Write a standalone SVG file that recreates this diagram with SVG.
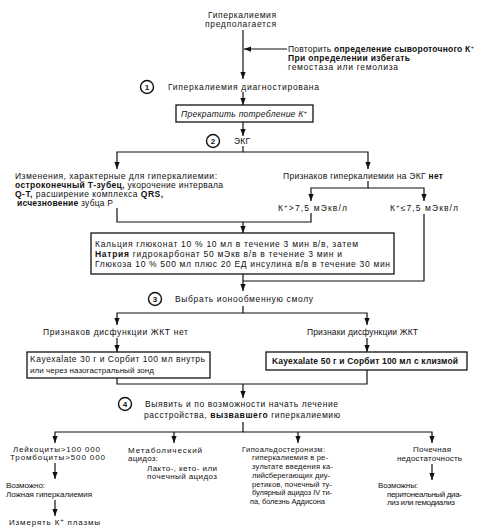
<svg xmlns="http://www.w3.org/2000/svg" width="480" height="532" viewBox="0 0 480 532">
<style>
text{font-family:"Liberation Sans",Arial,sans-serif;font-size:8.5px;fill:#111}
.s{font-size:7.5px}
.m{font-size:8px}
.b{font-weight:bold}
.i{font-style:italic}
.sup{font-size:6px}
.num{font-size:8px;font-weight:bold;text-anchor:middle}
.box{fill:#fff;stroke:#111;stroke-width:1.3}
.circ{fill:#fff;stroke:#111;stroke-width:1.4}
.ln{fill:none;stroke:#111;stroke-width:1.2}
</style>
<defs>
<marker id="ah" viewBox="0 0 8 8" refX="8" refY="4" markerWidth="7" markerHeight="7" markerUnits="userSpaceOnUse" orient="auto">
<path d="M0,1 L8,4 L0,7 Z" fill="#111"/>
</marker>
</defs>
<rect width="480" height="532" fill="#fff"/>

<g id="connectors">
<path class="ln" d="M243,30 V79" marker-end="url(#ah)"/>
<path class="ln" d="M287,49 H244" marker-end="url(#ah)"/>
<path class="ln" d="M243,92 V105" marker-end="url(#ah)"/>
<path class="ln" d="M243,122 V136" marker-end="url(#ah)"/>
<path class="ln" d="M243,146 V152 H117 V169" marker-end="url(#ah)"/>
<path class="ln" d="M243,152 H368 V169" marker-end="url(#ah)"/>
<path class="ln" d="M117,208 V222 H311 V213"/>
<path class="ln" d="M243,222 V233" marker-end="url(#ah)"/>
<path class="ln" d="M368,181 V188 H311 V201" marker-end="url(#ah)"/>
<path class="ln" d="M368,188 H424 V201" marker-end="url(#ah)"/>
<path class="ln" d="M424,214 V281 H243"/>
<path class="ln" d="M243,274 V291" marker-end="url(#ah)"/>
<path class="ln" d="M243,306 V313 H117 V325" marker-end="url(#ah)"/>
<path class="ln" d="M243,313 H367 V325" marker-end="url(#ah)"/>
<path class="ln" d="M117,338 V352" marker-end="url(#ah)"/>
<path class="ln" d="M367,338 V352" marker-end="url(#ah)"/>
<path class="ln" d="M117,378 V384 H367 V370"/>
<path class="ln" d="M243,384 V398" marker-end="url(#ah)"/>
<path class="ln" d="M243,422 V432 H55 V443" marker-end="url(#ah)"/>
<path class="ln" d="M174,432 V443" marker-end="url(#ah)"/>
<path class="ln" d="M243,432 H432 V443" marker-end="url(#ah)"/>
<path class="ln" d="M298,432 V443" marker-end="url(#ah)"/>
<path class="ln" d="M55,463 V479" marker-end="url(#ah)"/>
<path class="ln" d="M55,500 V516" marker-end="url(#ah)"/>
<path class="ln" d="M432,464 V480" marker-end="url(#ah)"/>
</g>

<g id="start">
<text x="208" y="18" textLength="68" lengthAdjust="spacing">Гиперкалиемия</text>
<text x="205" y="27" textLength="71" lengthAdjust="spacing">предполагается</text>
</g>

<g id="repeat">
<text x="288" y="52" textLength="186" lengthAdjust="spacing">Повторить <tspan class="b">определение сывороточного К</tspan><tspan class="sup" dy="-3">+</tspan></text>
<text x="288" y="61" class="b" textLength="122" lengthAdjust="spacing">При определении избегать</text>
<text x="288" y="70" textLength="110" lengthAdjust="spacing">гемостаза или гемолиза</text>
</g>

<g id="step1">
<circle class="circ" cx="147" cy="87" r="6.5"/>
<text class="num" x="147" y="90">1</text>
<text x="168" y="90" textLength="151" lengthAdjust="spacing">Гиперкалиемия диагностирована</text>
</g>

<g id="stop">
<rect class="box" x="176" y="105" width="137" height="17"/>
<text class="i" x="181" y="117" textLength="126" lengthAdjust="spacing">Прекратить потребление К<tspan class="sup" dy="-3">+</tspan></text>
</g>

<g id="step2">
<circle class="circ" cx="213" cy="141" r="6.5"/>
<text class="num" x="213" y="144">2</text>
<text x="234" y="144" textLength="16" lengthAdjust="spacing">ЭКГ</text>
</g>

<g id="ecg-changes">
<text x="15" y="179" textLength="202" lengthAdjust="spacing">Изменения, характерные для гиперкалиемии:</text>
<text x="15" y="188" textLength="208" lengthAdjust="spacing"><tspan class="b">остроконечный Т-зубец,</tspan> укорочение интервала</text>
<text x="15" y="197" textLength="148" lengthAdjust="spacing"><tspan class="b">Q-T,</tspan> расширение комплекса <tspan class="b">QRS,</tspan></text>
<text x="17" y="206" textLength="96" lengthAdjust="spacing"><tspan class="b">исчезновение</tspan> зубца P</text>
</g>

<g id="ecg-none">
<text x="283" y="179" textLength="160" lengthAdjust="spacing">Признаков гиперкалиемии на ЭКГ <tspan class="b">нет</tspan></text>
</g>

<g id="k-high">
<text x="278" y="211" textLength="69" lengthAdjust="spacing">К<tspan class="sup" dy="-3">+</tspan><tspan dy="3">&gt;7,5 мЭкв/л</tspan></text>
</g>

<g id="k-low">
<text x="390" y="211" textLength="68" lengthAdjust="spacing">К<tspan class="sup" dy="-3">+</tspan><tspan dy="3">≤7,5 мЭкв/л</tspan></text>
</g>

<g id="therapy">
<rect class="box" x="91" y="233" width="303" height="41"/>
<text x="95" y="247" textLength="263" lengthAdjust="spacing">Кальция глюконат 10 % 10 мл в течение 3 мин в/в, затем</text>
<text x="95" y="257" textLength="247" lengthAdjust="spacing"><tspan class="b">Натрия</tspan> гидрокарбонат 50 мЭкв в/в в течение 3 мин и</text>
<text x="95" y="267" textLength="295" lengthAdjust="spacing">Глюкоза 10 % 500 мл плюс 20 ЕД инсулина в/в в течение 30 мин</text>
</g>

<g id="step3">
<circle class="circ" cx="155" cy="299" r="6.5"/>
<text class="num" x="155" y="302">3</text>
<text x="175" y="302" textLength="138" lengthAdjust="spacing">Выбрать ионообменную смолу</text>
</g>

<g id="gi-none">
<text x="43" y="335" textLength="145" lengthAdjust="spacing">Признаков дисфункции ЖКТ нет</text>
</g>

<g id="gi-yes">
<text x="307" y="335" textLength="111" lengthAdjust="spacing">Признаки дисфункции ЖКТ</text>
</g>

<g id="resin-oral">
<rect class="box" x="27" y="352" width="183" height="26"/>
<text x="30" y="362" textLength="175" lengthAdjust="spacing">Kayexalate 30 г и Сорбит 100 мл внутрь</text>
<text x="30" y="373" style="font-size:8px" textLength="124" lengthAdjust="spacing">или через назогастральный зонд</text>
</g>

<g id="resin-enema">
<rect class="box" x="266" y="352" width="201" height="18"/>
<text x="272" y="364" class="b" textLength="186" lengthAdjust="spacing">Kayexalate 50 г и Сорбит 100 мл с клизмой</text>
</g>

<g id="step4">
<circle class="circ" cx="125" cy="404" r="6.5"/>
<text class="num" x="125" y="407">4</text>
<text x="145" y="407" textLength="193" lengthAdjust="spacing">Выявить и по возможности начать лечение</text>
<text x="144" y="418" textLength="196" lengthAdjust="spacing">расстройства, <tspan class="b">вызвавшего</tspan> гиперкалиемию</text>
</g>

<g id="leuko">
<text class="m" x="13" y="452" textLength="87" lengthAdjust="spacing">Лейкоциты&gt;100 000</text>
<text class="m" x="10" y="460" textLength="95" lengthAdjust="spacing">Тромбоциты&gt;500 000</text>
</g>

<g id="pseudo">
<text class="m" x="6" y="488" textLength="39" lengthAdjust="spacing">Возможно:</text>
<text class="m" x="6" y="497" textLength="86" lengthAdjust="spacing">Ложная гиперкалиемия</text>
</g>

<g id="measure">
<text class="m" x="9" y="525" textLength="91" lengthAdjust="spacing">Измерять К<tspan class="sup" dy="-3">+</tspan><tspan dy="3"> плазмы</tspan></text>
</g>

<g id="acidosis">
<text class="m" x="128" y="453" textLength="74" lengthAdjust="spacing">Метаболический</text>
<text class="m" x="128" y="461" textLength="30" lengthAdjust="spacing">ацидоз:</text>
<text class="m" x="147" y="471" textLength="70" lengthAdjust="spacing">Лакто-, кето- или</text>
<text class="m" x="147" y="479" textLength="70" lengthAdjust="spacing">почечный ацидоз</text>
</g>

<g id="hypoaldo">
<text class="s" x="242" y="452" textLength="83" lengthAdjust="spacing">Гипоальдостеронизм:</text>
<text class="s" x="252" y="460" textLength="76" lengthAdjust="spacing">гиперкалиемия в ре-</text>
<text class="s" x="252" y="469" textLength="81" lengthAdjust="spacing">зультате введения ка-</text>
<text class="s" x="252" y="478" textLength="78" lengthAdjust="spacing">лийсберегающих диу-</text>
<text class="s" x="252" y="487" textLength="80" lengthAdjust="spacing">ретиков, почечный ту-</text>
<text class="s" x="252" y="495" textLength="80" lengthAdjust="spacing">булярный ацидоз IV ти-</text>
<text class="s" x="250" y="504" textLength="75" lengthAdjust="spacing">па, болезнь Аддисона</text>
</g>

<g id="renal">
<text class="m" x="413" y="452" textLength="38" lengthAdjust="spacing">Почечная</text>
<text class="m" x="397" y="461" textLength="65" lengthAdjust="spacing">недостаточность</text>
</g>

<g id="dialysis">
<text class="m" x="378" y="488" textLength="40" lengthAdjust="spacing">Возможны:</text>
<text class="m" x="387" y="497" textLength="75" lengthAdjust="spacing">перитонеальный диа-</text>
<text class="m" x="387" y="505" textLength="68" lengthAdjust="spacing">лиз или гемодиализ</text>
</g>
</svg>
